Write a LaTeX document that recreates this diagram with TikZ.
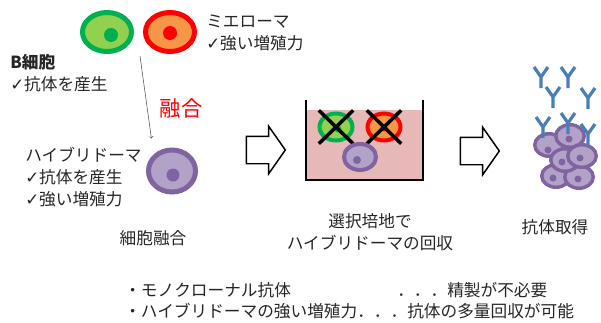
\documentclass[tikz,border=0pt]{standalone}
\usepackage{fontspec}
\setmainfont{Noto Sans CJK JP}
\newfontfamily\symfont{DejaVu Sans}
\usetikzlibrary{positioning, shapes.geometric, shapes.arrows, shapes.misc}

\definecolor{bgreen}{HTML}{00B050}
\definecolor{lgreen}{HTML}{92D050}
\definecolor{mred}{HTML}{FF0000}
\definecolor{morange}{HTML}{F79646}
\definecolor{hpurple}{HTML}{8064A2}
\definecolor{lpurple}{HTML}{B3A2C7}
\definecolor{medium}{HTML}{E6B9B8}
\definecolor{abblue}{HTML}{4A7EBB}
\definecolor{txt}{HTML}{262626}

\newcommand{\ticksym}{{\symfont ✓}}

\tikzset{
    cell/.style={ellipse, inner sep=0pt},
    greencell/.style={cell, draw=bgreen, fill=lgreen},
    redcell/.style={cell, draw=mred, fill=morange},
    hybcell/.style={cell, draw=hpurple, fill=lpurple},
    nucleus/.style={circle, inner sep=0pt},
    jtext/.style={text=txt, inner sep=0pt, font=\fontsize{12.5pt}{16.5pt}\selectfont},
    bigarrow/.style={single arrow, draw, line width=1.1pt, fill=white,
        inner xsep=0pt, inner ysep=9.75pt, minimum height=29.25pt,
        single arrow head extend=7.5pt, single arrow tip angle=110},
    antibody/.style={abblue, line width=2.4pt},
    killed/.style={cross out, draw=black, line width=2.6pt, inner sep=0pt, minimum width=23.25pt, minimum height=22.5pt},
}

\begin{document}
\begin{tikzpicture}[x=0.75pt, y=-0.75pt]
    \useasboundingbox (0,0) rectangle (601,322);

    % parent cells and their fusion
    \node (bcell) at (107,32) [greencell, line width=3.75pt, minimum width=36.75pt, minimum height=29.25pt] {};
    \node (bnuc) at (111,35) [nucleus, fill=bgreen, minimum size=10.5pt] {};
    \node (myeloma) at (170,32) [redcell, line width=3.75pt, minimum width=36.75pt, minimum height=29.25pt] {};
    \node (mnuc) at (170,33) [nucleus, fill=mred, minimum size=10.5pt] {};

    \node (hybrid) at (172,171) [hybcell, line width=3.75pt, minimum width=35.25pt, minimum height=31.5pt] {};
    \node (hnuc) at (173,175) [nucleus, fill=hpurple, minimum size=9.75pt] {};

    \coordinate (fstart) at (140,56);
    \draw[->, black!70, thin, shorten >=12pt] (fstart) -- (hybrid.north west);

    \node (myelomatxt) at (206,32.5) [jtext, anchor=west, align=left] {ミエローマ\\\ticksym 強い増殖力};
    \node (bcelltxt) at (10,73) [jtext, anchor=west, align=left] {\textbf{B細胞}\\\ticksym 抗体を産生};
    \node (fusion) at (181,108) [inner sep=0pt, text=mred, font=\fontsize{16pt}{18pt}\selectfont] {融合};
    \node (hybtxt) at (25,177) [jtext, anchor=west, align=left] {ハイブリドーマ\\\ticksym 抗体を産生\\\ticksym 強い増殖力};
    \node (fusecap) at (153,238) [jtext] {細胞融合};

    \node (arrow1) at (261,150) [bigarrow] {};

    % selection medium
    \fill[medium] (306,110) rectangle (423,180);
    \node (gdead) at (336,127) [greencell, line width=3pt, minimum width=24.75pt, minimum height=20.25pt] {};
    \node (gdnuc) at (338,129) [nucleus, fill=bgreen, minimum size=5.25pt] {};
    \node (rdead) at (384,127) [redcell, line width=3pt, minimum width=24.75pt, minimum height=20.25pt] {};
    \node (rdnuc) at (384,128) [nucleus, fill=mred, minimum size=5.25pt] {};
    \node (gx) at (gdead) [killed] {};
    \node (rx) at (rdead) [killed] {};
    \node (hlive) at (360,157) [hybcell, line width=3pt, minimum width=24pt, minimum height=19.5pt] {};
    \node (hlnuc) at (357,160) [nucleus, fill=hpurple, minimum size=6pt] {};
    \draw[line width=1.5pt] (306,100) -- (306,180) -- (423,180) -- (423,100);

    \node (selcap) at (370,232) [jtext, align=center] {選択培地で\\ハイブリドーマの回収};

    \node (arrow2) at (475,151) [bigarrow] {};

    % hybridoma colony with antibodies
    \foreach \cx/\cy/\nx/\ny [count=\i] in {549/145/548/150, 570/136/569/139, 556/176/553/178,
        579/177/578/179, 565/160/562/162, 582/156/580/158}
    {
        \node (clu\i) at (\cx,\cy) [hybcell, line width=2.6pt, minimum width=21.4pt, minimum height=16.9pt] {};
        \node (clun\i) at (\nx,\ny) [nucleus, fill=hpurple, minimum size=5.25pt] {};
    }
    \foreach \ax/\ay in {541/67, 568/67, 553/87, 588/88, 543/117, 568/113, 588/124}
    {
        \draw[antibody] ({\ax-7},\ay) -- (\ax,{\ay+10}) -- ({\ax+7},\ay)
            (\ax,{\ay+10}) -- (\ax,{\ay+21});
    }
    \node (abcap) at (555,227) [jtext] {抗体取得};

    % merits
    \node (merit1) at (124,290) [jtext, anchor=west] {・モノクローナル抗体};
    \node (merit1b) at (397,290) [jtext, anchor=west] {．．．精製が不必要};
    \node (merit2) at (124,311) [jtext, anchor=west] {・ハイブリドーマの強い増殖力．．．抗体の多量回収が可能};
\end{tikzpicture}
\end{document}
